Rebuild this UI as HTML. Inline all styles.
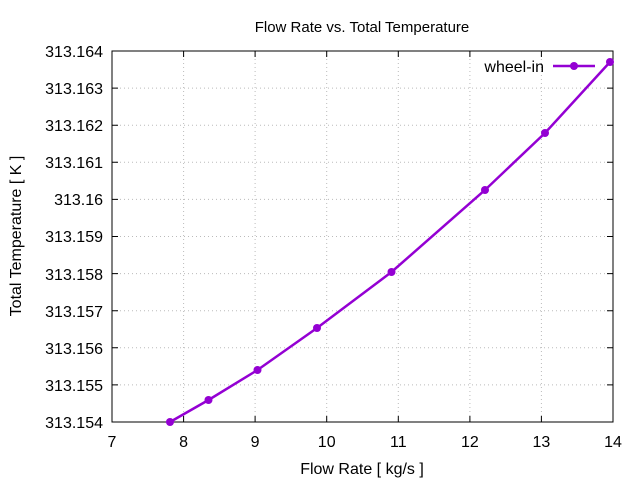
<!DOCTYPE html><html><head><style>body{margin:0;background:#fff}svg{display:block}text{font-family:"Liberation Sans",sans-serif;font-size:16px;fill:#000}</style></head><body>
<svg width="640" height="480" xmlns="http://www.w3.org/2000/svg">
<g stroke="#bbb" stroke-width="1" stroke-dasharray="1,3">
<line x1="183.6" y1="51" x2="183.6" y2="422"/><line x1="255.1" y1="51" x2="255.1" y2="422"/><line x1="326.7" y1="51" x2="326.7" y2="422"/><line x1="398.3" y1="51" x2="398.3" y2="422"/><line x1="469.9" y1="51" x2="469.9" y2="422"/><line x1="541.4" y1="51" x2="541.4" y2="422"/>
<line x1="112" y1="88.1" x2="613" y2="88.1"/><line x1="112" y1="125.2" x2="613" y2="125.2"/><line x1="112" y1="162.3" x2="613" y2="162.3"/><line x1="112" y1="199.4" x2="613" y2="199.4"/><line x1="112" y1="236.5" x2="613" y2="236.5"/><line x1="112" y1="273.6" x2="613" y2="273.6"/><line x1="112" y1="310.7" x2="613" y2="310.7"/><line x1="112" y1="347.8" x2="613" y2="347.8"/><line x1="112" y1="384.9" x2="613" y2="384.9"/>
</g>
<rect x="112" y="51" width="501" height="371" fill="none" stroke="#000"/>
<g stroke="#000">
<path d="M183.6 422v-6M255.1 422v-6M326.7 422v-6M398.3 422v-6M469.9 422v-6M541.4 422v-6M183.6 51v6M255.1 51v6M326.7 51v6M398.3 51v6M469.9 51v6M541.4 51v6"/>
<path d="M112 88.1h6M112 125.2h6M112 162.3h6M112 199.4h6M112 236.5h6M112 273.6h6M112 310.7h6M112 347.8h6M112 384.9h6M613 88.1h-6M613 125.2h-6M613 162.3h-6M613 199.4h-6M613 236.5h-6M613 273.6h-6M613 310.7h-6M613 347.8h-6M613 384.9h-6"/>
</g>
<g text-anchor="middle">
<text x="112" y="447">7</text><text x="183.6" y="447">8</text><text x="255.1" y="447">9</text><text x="326.7" y="447">10</text><text x="398.3" y="447">11</text><text x="469.9" y="447">12</text><text x="541.4" y="447">13</text><text x="613" y="447">14</text>
<text x="362" y="474">Flow Rate [ kg/s ]</text>
<text x="362" y="32" style="font-size:15px">Flow Rate vs. Total Temperature</text>
<text transform="translate(21,236) rotate(-90)">Total Temperature [ K ]</text>
</g>
<g text-anchor="end">
<text x="103" y="428">313.154</text><text x="103" y="391">313.155</text><text x="103" y="354">313.156</text><text x="103" y="317">313.157</text><text x="103" y="280">313.158</text><text x="103" y="242">313.159</text><text x="103" y="205">313.16</text><text x="103" y="168">313.161</text><text x="103" y="131">313.162</text><text x="103" y="94">313.163</text><text x="103" y="57">313.164</text>
<text x="544" y="72">wheel-in</text>
</g>
<g stroke="#9400d3" stroke-width="2.5" fill="none">
<polyline points="170,422 208.5,400 257.5,370 317,328 391.5,272 485,190 545,133 610,62"/>
<line x1="553" y1="66" x2="595" y2="66"/>
</g>
<g fill="#9400d3">
<circle cx="170" cy="422" r="4"/><circle cx="208.5" cy="400" r="4"/><circle cx="257.5" cy="370" r="4"/><circle cx="317" cy="328" r="4"/><circle cx="391.5" cy="272" r="4"/><circle cx="485" cy="190" r="4"/><circle cx="545" cy="133" r="4"/><circle cx="610" cy="62" r="4"/><circle cx="574" cy="66" r="4"/>
</g>
</svg></body></html>
